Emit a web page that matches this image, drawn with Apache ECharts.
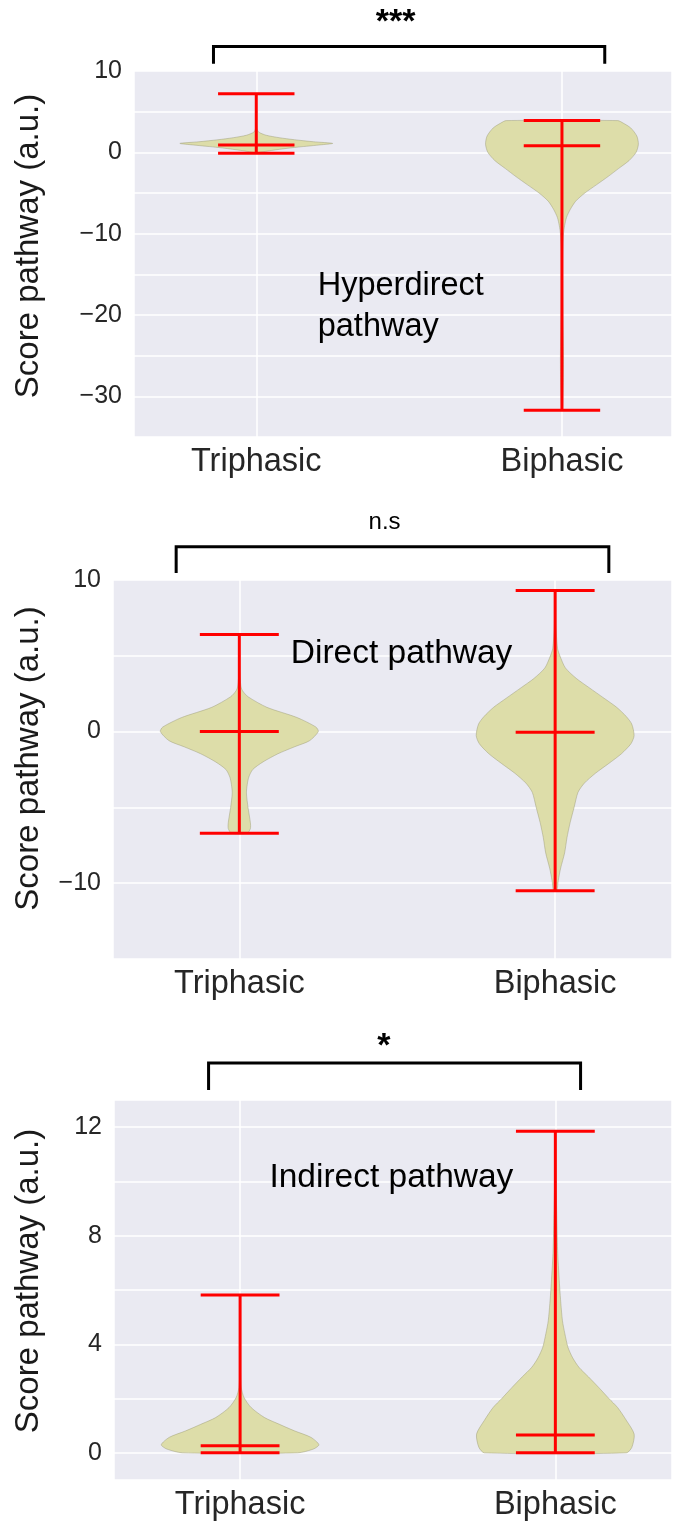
<!DOCTYPE html>
<html><head><meta charset="utf-8">
<script src="https://cdn.jsdelivr.net/npm/echarts@6/dist/echarts.min.js"></script>
<style>html,body{margin:0;padding:0;background:#fff}#c{width:675px;height:1522px}</style>
</head><body><div id="c"></div>
<script>
// ---------------- DATA ----------------
const categories = ['Triphasic', 'Biphasic'];
const positions = [1, 2];
const panelTitles = ['Hyperdirect\npathway', 'Direct pathway', 'Indirect pathway'];
const significance = ['***', 'n.s', '*'];
const yLabel = 'Score pathway (a.u.)';

// tick labels shown on each y axis
const yTicks1 = [10, 0, -10, -20, -30];
const yTicks2 = [10, 0, -10];
const yTicks3 = [0, 4, 8, 12];

// Panel 1 – Hyperdirect pathway (min / median / max per category)
const hyperMin = [-0.1, -31.7];
const hyperMedian = [0.9, 0.8];
const hyperMax = [7.2, 3.9];
// violin profiles: [value, relative half-width]
const hyperTriProfile = [[-0.1,0.0],[0,0.04],[0.3,0.25],[0.6,0.5],[0.9,0.82],[1.1,1.0],[1.3,0.75],[1.55,0.5],[1.8,0.3],[2.1,0.13],[2.5,0.03],[3.0,0.008],[5.0,0.003],[7.2,0.0]];
const hyperBiProfile = [[-31.7,0.005],[-31,0.01],[-28,0.018],[-25,0.02],[-20,0.012],[-15,0.008],[-12,0.01],[-10,0.02],[-9,0.035],[-8,0.06],[-7,0.11],[-6,0.18],[-5,0.3],[-4,0.45],[-3,0.6],[-2,0.74],[-1,0.88],[0,0.97],[1,1.0],[2,0.98],[3,0.9],[3.6,0.8],[3.9,0.73]];

// Panel 2 – Direct pathway
const directMin = [-6.7, -10.5];
const directMedian = [0.0, -0.05];
const directMax = [6.4, 9.3];
const directTriProfile = [[-6.7,0.1],[-6.4,0.14],[-6.0,0.14],[-5.0,0.11],[-4.05,0.09],[-3.5,0.1],[-3.0,0.12],[-2.5,0.17],[-2.0,0.3],[-1.46,0.49],[-1.0,0.7],[-0.6,0.89],[0,1.0],[0.3,0.97],[0.93,0.73],[1.6,0.35],[2.3,0.11],[2.7,0.04],[3.0,0.02],[4.0,0.005],[6.4,0.0]];
const directBiProfile = [[-10.5,0.02],[-9.8,0.04],[-9,0.07],[-8,0.12],[-7,0.15],[-6,0.19],[-5,0.24],[-4,0.29],[-3.4,0.37],[-2.75,0.51],[-2.1,0.68],[-1.46,0.84],[-0.8,0.96],[-0.26,1.0],[0.5,0.97],[1.0,0.9],[1.6,0.78],[2.2,0.62],[2.9,0.43],[3.5,0.27],[4.2,0.13],[5.0,0.06],[5.5,0.03],[7.0,0.01],[9.3,0.005]];

// Panel 3 – Indirect pathway
const indirectMin = [0.0, 0.0];
const indirectMedian = [0.26, 0.66];
const indirectMax = [5.82, 11.85];
const indirectTriProfile = [[0,0.73],[0.14,0.93],[0.3,1.0],[0.57,0.9],[0.81,0.69],[1.05,0.5],[1.3,0.31],[1.67,0.14],[2.04,0.05],[2.4,0.015],[3.0,0.005],[5.82,0.0]];
const indirectBiProfile = [[0,0.9],[0.2,0.97],[0.69,1.0],[1.2,0.9],[1.67,0.79],[2.0,0.68],[2.41,0.55],[2.8,0.42],[3.15,0.3],[3.5,0.22],[3.89,0.16],[4.4,0.12],[4.87,0.09],[5.5,0.07],[6.1,0.055],[7.35,0.03],[8.5,0.02],[9.8,0.01],[11.0,0.007],[11.85,0.004]];

// significance brackets (data units of each panel)
const bracketFrom = [0.86, 0.80, 0.90];
const bracketTo = [2.14, 2.17, 2.08];
const bracketTop = [13.0, 12.2, 14.36];
const bracketFoot = [10.9, 10.46, 13.37];
const sigAt = [[1.456, 15.9], [1.46, 13.8], [1.456, 14.95]];
const titleAt = [[1.201, -19.0], [1.163, 5.16], [1.093, 10.15]];

// ---------------- STYLE / LAYOUT ----------------
const FONT = 'Liberation Sans, Arial, Helvetica, sans-serif';
const HALF = 0.25, CAP = 0.125;
const grids = [
  {left: 134, top: 71, right: 0, height: 366},
  {left: 113, top: 580, right: 0, height: 379},
  {left: 114, top: 1100, right: 0, height: 380}
];
const xMax = [2.36, 2.37, 2.37];
const yRange = [[-35, 10, 5], [-15, 10, 5], [-1, 13, null]];
const yTickSets = [yTicks1, yTicks2, yTicks3];
const nameShift = [16, 22, 18];
const titleSize = [32.5, 33.5, 33.5];
const panels = [
  {min: hyperMin, med: hyperMedian, max: hyperMax, prof: [hyperTriProfile, hyperBiProfile]},
  {min: directMin, med: directMedian, max: directMax, prof: [directTriProfile, directBiProfile]},
  {min: indirectMin, med: indirectMedian, max: indirectMax, prof: [indirectTriProfile, indirectBiProfile]}
];

const fmtNum = v => (v < 0 ? '\u2212' + Math.abs(v) : String(v));

const xAxes = grids.map((g, i) => ({
  type: 'value', gridIndex: i, min: 0.6, max: xMax[i], splitNumber: 2,
  axisLine: {show: false}, axisTick: {show: false},
  splitLine: {show: true, lineStyle: {color: '#ffffff', width: 1.5}},
  axisLabel: {
    margin: 9, fontSize: 32.5, color: '#262626', fontFamily: FONT,
    formatter: v => { const k = positions.indexOf(v); return k >= 0 ? categories[k] : ''; }
  }
}));

const yAxes = grids.map((g, i) => {
  const r = yRange[i];
  const ax = {
    type: 'value', gridIndex: i, min: r[0], max: r[1],
    axisLine: {show: false}, axisTick: {show: false},
    splitLine: {show: true, lineStyle: {color: '#ffffff', width: 1.5}},
    axisLabel: {
      margin: 12, fontSize: 25, color: '#262626', fontFamily: FONT,
      showMinLabel: true, showMaxLabel: true,
      formatter: v => (yTickSets[i].indexOf(v) >= 0 ? fmtNum(v) : '')
    },
    name: yLabel, nameLocation: 'middle', nameRotate: 90, nameGap: g.left - 45,
    nameTextStyle: {fontSize: 33, color: '#1a1a1a', fontFamily: FONT, padding: [0, 0, 0, nameShift[i]]}
  };
  if (r[2] != null) ax.interval = r[2]; else ax.splitNumber = 7;
  return ax;
});

const series = [];
panels.forEach((p, i) => {
  // violins
  series.push({
    type: 'custom', xAxisIndex: i, yAxisIndex: i, z: 2, silent: true,
    data: positions.map((pos, k) => [pos, k]),
    renderItem: (params, api) => {
      const pos = api.value(0), prof = p.prof[api.value(1)];
      const right = prof.map(d => api.coord([pos + d[1] * HALF, d[0]]));
      const left = prof.slice().reverse().map(d => api.coord([pos - d[1] * HALF, d[0]]));
      return {type: 'polygon', shape: {points: right.concat(left), smooth: 0.25},
        style: {fill: '#DDDDA9', stroke: 'rgba(150,150,115,0.55)', lineWidth: 0.8}};
    }
  });
  // min / median / max lines
  series.push({
    type: 'custom', xAxisIndex: i, yAxisIndex: i, z: 3, silent: true,
    data: positions.map((pos, k) => [pos, p.min[k], p.med[k], p.max[k]]),
    renderItem: (params, api) => {
      const pos = api.value(0);
      const ln = (a, b) => ({type: 'line', shape: {x1: a[0], y1: a[1], x2: b[0], y2: b[1]},
        style: {stroke: '#FF0000', lineWidth: 3}});
      const kids = [ln(api.coord([pos, api.value(1)]), api.coord([pos, api.value(3)]))];
      [1, 2, 3].forEach(d => kids.push(ln(api.coord([pos - CAP, api.value(d)]), api.coord([pos + CAP, api.value(d)]))));
      return {type: 'group', children: kids};
    }
  });
  // annotations: bracket, significance, pathway title
  series.push({
    type: 'custom', xAxisIndex: i, yAxisIndex: i, z: 4, silent: true, clip: false,
    data: [[bracketFrom[i], bracketTo[i], bracketTop[i], bracketFoot[i]]],
    renderItem: (params, api) => {
      const a = api.coord([api.value(0), api.value(3)]);
      const b = api.coord([api.value(0), api.value(2)]);
      const c = api.coord([api.value(1), api.value(2)]);
      const d = api.coord([api.value(1), api.value(3)]);
      const s = api.coord(sigAt[i]);
      const t = api.coord(titleAt[i]);
      const bold = significance[i] !== 'n.s';
      return {type: 'group', children: [
        {type: 'polyline', shape: {points: [a, b, c, d]}, style: {stroke: '#000', lineWidth: 3, fill: null}},
        {type: 'text', style: {text: significance[i], x: s[0], y: s[1], align: 'center', verticalAlign: 'middle',
          fill: '#000', fontSize: bold ? 34 : 24, fontWeight: bold ? 'bold' : 'normal', fontFamily: FONT}},
        {type: 'text', style: {text: panelTitles[i], x: t[0], y: t[1], align: 'left', verticalAlign: 'middle',
          fill: '#000', fontSize: titleSize[i], lineHeight: 41, fontFamily: FONT}}
      ]};
    }
  });
});

const chart = echarts.init(document.getElementById('c'), null, {renderer: 'canvas'});
chart.setOption({
  animation: false,
  backgroundColor: '#ffffff',
  grid: grids.map(g => Object.assign({backgroundColor: '#EAEAF2', show: true, borderWidth: 0}, g)),
  xAxis: xAxes,
  yAxis: yAxes,
  series: series
});
</script></body></html>
